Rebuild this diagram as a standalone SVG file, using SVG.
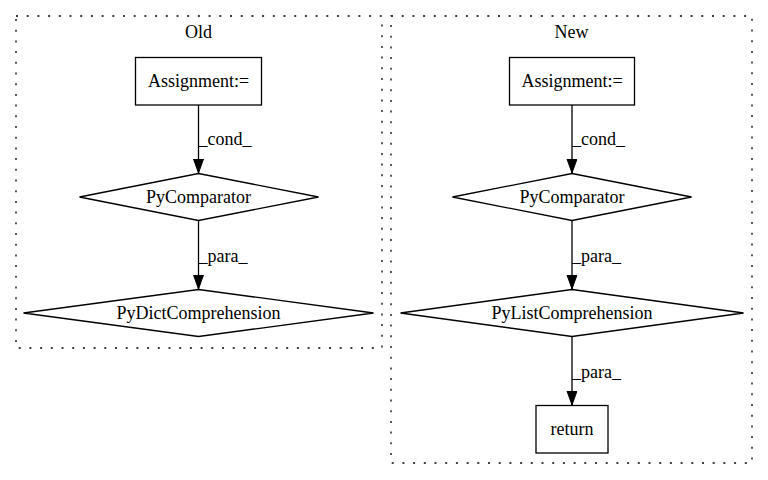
<svg xmlns="http://www.w3.org/2000/svg" width="768" height="480" viewBox="0 0 768 480">
<defs>
<marker id="ah" markerWidth="16" markerHeight="12" refX="14" refY="5" orient="auto" markerUnits="userSpaceOnUse">
<path d="M0,0 L14,5 L0,10 Z" fill="#000" stroke="#000" stroke-width="1"/>
</marker>
</defs>
<style>
text{font-family:"Liberation Serif","Times New Roman",serif;font-size:18px;fill:#000}
.c{text-anchor:middle}
.n{fill:#fff;stroke:#000;stroke-width:1.3}
.cl{fill:none;stroke:#000;stroke-width:1.3;stroke-dasharray:2,8.7}
.e{fill:none;stroke:#000;stroke-width:1.3}
</style>
<rect width="768" height="480" fill="#fff"/>
<g id="cluster_old">
<rect class="cl" x="16" y="16" width="366" height="332"/>
<text class="c" x="198.5" y="38">Old</text>
</g>
<g id="cluster_new">
<rect class="cl" x="391" y="16" width="361" height="447"/>
<text class="c" x="571.5" y="38">New</text>
</g>
<g id="connectors">
<line class="e" x1="198.5" y1="105" x2="198.5" y2="173" marker-end="url(#ah)"/>
<text x="198.5" y="145">_cond_</text>
<line class="e" x1="198.5" y1="221" x2="198.5" y2="289" marker-end="url(#ah)"/>
<text x="198.5" y="262">_para_</text>
<line class="e" x1="572" y1="105" x2="572" y2="173" marker-end="url(#ah)"/>
<text x="572" y="145">_cond_</text>
<line class="e" x1="572" y1="221" x2="572" y2="289" marker-end="url(#ah)"/>
<text x="572" y="262">_para_</text>
<line class="e" x1="572" y1="337" x2="572" y2="405" marker-end="url(#ah)"/>
<text x="572" y="378">_para_</text>
</g>
<g id="old_assignment">
<rect class="n" x="135.5" y="57.5" width="126" height="47.5"/>
<text class="c" x="198.5" y="87">Assignment:=</text>
</g>
<g id="old_pycomparator">
<polygon class="n" points="198.5,173.5 318.5,197 198.5,220.5 79.5,197"/>
<text class="c" x="198.5" y="203">PyComparator</text>
</g>
<g id="old_pydictcomprehension">
<polygon class="n" points="198.5,289.5 373.5,313 198.5,336.5 23.5,313"/>
<text class="c" x="198.5" y="319">PyDictComprehension</text>
</g>
<g id="new_assignment">
<rect class="n" x="509.5" y="57.5" width="125" height="47.5"/>
<text class="c" x="572" y="87">Assignment:=</text>
</g>
<g id="new_pycomparator">
<polygon class="n" points="572,173.5 691.5,197 572,220.5 452.5,197"/>
<text class="c" x="572" y="203">PyComparator</text>
</g>
<g id="new_pylistcomprehension">
<polygon class="n" points="572,289.5 743.5,313 572,336.5 400.5,313"/>
<text class="c" x="572" y="319">PyListComprehension</text>
</g>
<g id="new_return">
<rect class="n" x="536" y="405.5" width="72" height="47.5"/>
<text class="c" x="572" y="435">return</text>
</g>
</svg>
